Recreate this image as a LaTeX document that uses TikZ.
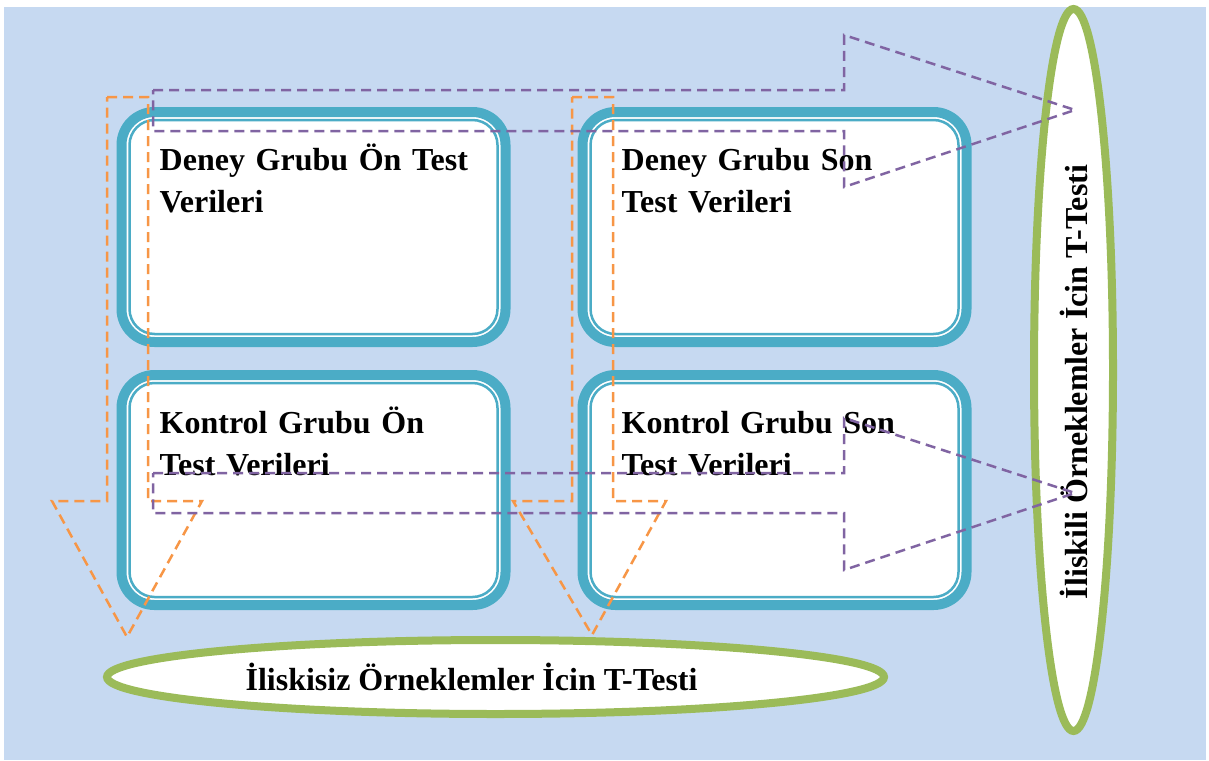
\documentclass[tikz,border=0pt]{standalone}
\usepackage{fontspec}
\setmainfont{Liberation Serif}
\usetikzlibrary{shapes.geometric}
\definecolor{zemin}{HTML}{C6D9F1}
\definecolor{kutumavi}{HTML}{4BACC6}
\definecolor{yesil}{HTML}{9BBB59}
\definecolor{turuncu}{HTML}{F79646}
\definecolor{mor}{HTML}{8064A2}
\begin{document}
\begin{tikzpicture}[x=1pt, y=-1pt,
    veri/.style={draw=kutumavi, line width=10pt, fill=white, rounded corners=33pt,
      minimum width=384pt, minimum height=230pt, inner sep=0pt, outer sep=0pt},
    ince/.style={draw=kutumavi, line width=2.5pt, rounded corners=25pt},
    yazi/.style={text width=330pt, align=left, inner sep=0pt,
      font=\bfseries\fontsize{32}{42}\selectfont},
    testi/.style={ellipse, draw=yesil, line width=8pt, fill=white, inner sep=0pt,
      outer sep=0pt, font=\bfseries\fontsize{32}{42}\selectfont},
    bagimsizok/.style={draw=turuncu, line width=2.5pt, dash pattern=on 10pt off 6pt},
    bagimliok/.style={draw=mor, line width=2.5pt, dash pattern=on 10pt off 6pt}]
  \useasboundingbox (0,0) rectangle (1209,760);
  \fill[zemin] (4,7) rectangle (1206,760);

  % Veri kutulari
  \node[veri] (dot) at (313.5,227) {};
  \node[veri] (dst) at (774.5,227) {};
  \node[veri] (kot) at (313.5,490) {};
  \node[veri] (kst) at (774.5,490) {};
  \foreach \k in {dot,dst,kot,kst}
    \draw[ince] ([shift={(8,8)}]\k.north west) rectangle ([shift={(-8,-8)}]\k.south east);
  \node[yazi, anchor=base west] (dotyazi) at ([shift={(38,58)}]dot.north west) {Deney Grubu Ön Test\\Verileri};
  \node[yazi, anchor=base west] (dstyazi) at ([shift={(39,58)}]dst.north west) {Deney Grubu Son\\Test Verileri};
  \node[yazi, anchor=base west] (kotyazi) at ([shift={(38,58)}]kot.north west) {Kontrol Grubu Ön\\Test Verileri};
  \node[yazi, anchor=base west] (kstyazi) at ([shift={(39,58)}]kst.north west) {Kontrol Grubu Son\\Test Verileri};

  % T-testleri
  \node[testi, minimum width=777pt, minimum height=74pt] (iliskisiz) at (495.5,677)
    {İliskisiz Örneklemler İcin T-Testi\hspace*{48pt}};
  \node[testi, rotate=90, minimum width=722pt, minimum height=79pt] (iliskili) at (1073.5,370)
    {İliskili Örneklemler İcin T-Testi\hspace*{24pt}};

  % Oklar
  \draw[bagimsizok] (107,97) -- (148,97) -- (148,501) -- (202,501) -- (127,637)
    -- (52,501) -- (107,501) -- cycle;
  \draw[bagimsizok] (572,97) -- (613,97) -- (613,501) -- (666,501) -- (592,635)
    -- (513,501) -- (572,501) -- cycle;
  \draw[bagimliok] (153,90) -- (844,90) -- (844,35) -- (1075,110) -- (844,187)
    -- (844,131) -- (153,131) -- cycle;
  \draw[bagimliok] (153,473) -- (844,473) -- (844,418) -- (1075,493) -- (844,570)
    -- (844,513) -- (153,513) -- cycle;
\end{tikzpicture}
\end{document}
